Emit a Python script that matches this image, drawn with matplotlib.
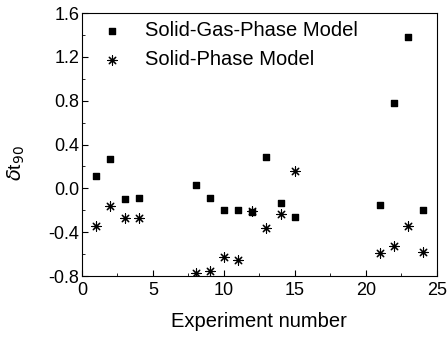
import matplotlib
matplotlib.use("Agg")
import matplotlib.pyplot as plt
from matplotlib.ticker import MultipleLocator

plt.rcParams['font.family'] = ['Liberation Sans', 'DejaVu Sans']

# experiment numbers
experiments = [1, 2, 3, 4, 8, 9, 10, 11, 12, 13, 14, 15, 21, 22, 23, 24]
# delta t90 for each model
solid_gas = [0.11, 0.27, -0.10, -0.09, 0.03, -0.09, -0.20, -0.20, -0.22, 0.29, -0.13, -0.26, -0.15, 0.78, 1.38, -0.20]
solid = [-0.34, -0.16, -0.27, -0.27, -0.77, -0.75, -0.63, -0.65, -0.21, -0.36, -0.23, 0.16, -0.59, -0.53, -0.34, -0.58]

fig = plt.figure(figsize=(4.48, 3.37), dpi=100)
ax = fig.add_axes([0.183, 0.181, 0.792, 0.780])

ax.scatter(experiments, solid_gas, marker='s', s=24, color='black', label='Solid-Gas-Phase Model')
ax.scatter(experiments, solid, marker=(8, 2, 0), s=45, color='black', linewidths=0.8, label='Solid-Phase Model')

ax.set_xlim(0, 25)
ax.set_ylim(-0.8, 1.6)
ax.xaxis.set_major_locator(MultipleLocator(5))
ax.xaxis.set_minor_locator(MultipleLocator(2.5))
ax.yaxis.set_major_locator(MultipleLocator(0.4))
ax.yaxis.set_minor_locator(MultipleLocator(0.2))
ax.yaxis.set_major_formatter(matplotlib.ticker.FormatStrFormatter('%.1f'))
ax.tick_params(which='both', direction='in', labelsize=13)
ax.tick_params(which='major', length=4, pad=2)
ax.tick_params(which='minor', length=2)
ax.tick_params(axis='x', which='major', pad=4)

ax.set_xlabel('Experiment number', fontsize=14.5, labelpad=10)
ax.set_ylabel(r'$\delta$t$_{90}$', fontsize=14)
ax.yaxis.set_label_coords(-0.155, 0.43)

ax.legend(loc='upper left', frameon=False, fontsize=14.5, handletextpad=0.9,
          borderaxespad=0.0, labelspacing=0.5, handlelength=1.5,
          bbox_to_anchor=(0.02, 1.0))

fig.savefig('out.png', dpi=100)
